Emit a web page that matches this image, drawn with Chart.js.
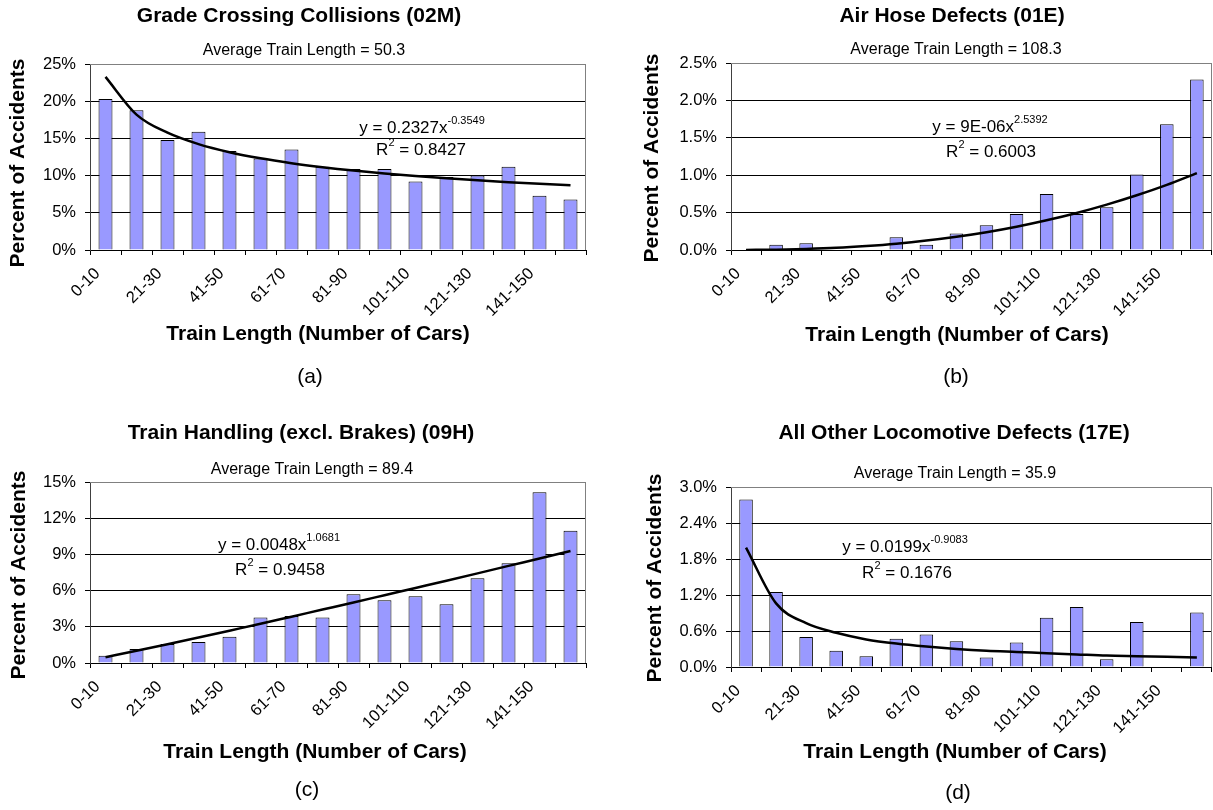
<!DOCTYPE html>
<html>
<head>
<meta charset="utf-8">
<title>Train length vs accident cause</title>
<script src="https://cdn.jsdelivr.net/npm/chart.js@4.4.0/dist/chart.umd.min.js"></script>
<style>
  html, body { margin: 0; padding: 0; background: #fff; overflow: hidden; width: 1213px; height: 810px; }
  canvas { position: absolute; }
</style>
</head>
<body>
<canvas id="chartA" width="606" height="400" style="left:0;top:0"></canvas>
<canvas id="chartB" width="620" height="400" style="left:600px;top:0"></canvas>
<canvas id="chartC" width="606" height="410" style="left:0;top:400px"></canvas>
<canvas id="chartD" width="620" height="410" style="left:600px;top:400px"></canvas>
<script>
// Train length bins (number of cars)
const categories = ['0-10', '11-20', '21-30', '31-40', '41-50', '51-60', '61-70', '71-80',
  '81-90', '91-100', '101-110', '111-120', '121-130', '131-140', '141-150', '151-160'];

// (a) Grade Crossing Collisions (02M), percent of accidents
const gradeCrossing = [20.3, 18.8, 14.8, 15.9, 13.3, 12.3, 13.5, 11.2, 10.9, 10.9, 9.2, 9.8, 10.0, 11.2, 7.3, 6.8];
const gradeTrend = [23.27, 18.20, 15.76, 14.23, 13.14, 12.32, 11.67, 11.13, 10.67, 10.28, 9.94, 9.63, 9.36, 9.12, 8.90, 8.70];

// (b) Air Hose Defects (01E)
const airHose = [0, 0.07, 0.09, 0, 0, 0.17, 0.07, 0.22, 0.33, 0.48, 0.75, 0.48, 0.57, 1.01, 1.68, 2.28];
const airTrend = [0.001, 0.005, 0.015, 0.030, 0.054, 0.085, 0.126, 0.177, 0.238, 0.311, 0.397, 0.495, 0.607, 0.732, 0.871, 1.028];

// (c) Train Handling (excl. Brakes) (09H)
const handling = [0.6, 1.16, 1.57, 1.73, 2.17, 3.77, 3.9, 3.77, 5.7, 5.2, 5.53, 4.87, 7.02, 8.26, 14.15, 10.95];
const handlingTrend = [0.48, 1.01, 1.55, 2.11, 2.68, 3.25, 3.84, 4.43, 5.02, 5.62, 6.22, 6.82, 7.43, 8.05, 8.66, 9.28];

// (d) All Other Locomotive Defects (17E)
const locoDefects = [2.79, 1.25, 0.50, 0.27, 0.18, 0.47, 0.54, 0.43, 0.16, 0.41, 0.82, 1.0, 0.13, 0.75, 0, 0.91];
const locoTrend = [1.99, 1.06, 0.73, 0.57, 0.46, 0.39, 0.34, 0.30, 0.27, 0.25, 0.23, 0.21, 0.19, 0.18, 0.17, 0.16];

const FONT = "'Liberation Sans', Arial, sans-serif";
const Y_TITLE = 'Percent of Accidents';
const X_TITLE = 'Train Length (Number of Cars)';

// gray frame on top and right of the plot area (Excel style)
const plotFrame = {
  id: 'plotFrame',
  beforeDatasetsDraw(chart) {
    const { ctx, chartArea: a } = chart;
    const r = Math.round(a.right) - 0.5, t = Math.round(a.top) + 0.5;
    ctx.save();
    ctx.strokeStyle = '#808080';
    ctx.lineWidth = 1;
    ctx.beginPath();
    ctx.moveTo(a.left, t);
    ctx.lineTo(r, t);
    ctx.lineTo(r, a.bottom);
    ctx.stroke();
    ctx.restore();
  }
};

// titles, axis titles, trend equations and panel letters
const panelText = {
  id: 'panelText',
  afterDraw(chart, args, opts) {
    const ctx = chart.ctx;
    ctx.save();
    ctx.fillStyle = '#000';
    ctx.textBaseline = 'middle';
    opts.items.forEach(it => {
      const parts = it.parts || [{ t: it.text }];
      const w = it.weight || 'normal';
      let total = 0;
      parts.forEach(p => {
        ctx.font = w + ' ' + (p.sup ? 11 : it.size) + 'px ' + FONT;
        p.w = ctx.measureText(p.t).width;
        total += p.w;
      });
      ctx.save();
      ctx.translate(it.x, it.y);
      if (it.rotate) ctx.rotate(it.rotate * Math.PI / 180);
      let x = -total / 2;
      ctx.textAlign = 'left';
      parts.forEach(p => {
        ctx.font = w + ' ' + (p.sup ? 11 : it.size) + 'px ' + FONT;
        ctx.fillText(p.t, x, p.sup ? -7 : 0);
        x += p.w;
      });
      ctx.restore();
    });
    ctx.restore();
  }
};

function buildPanel(id, bars, trend, p) {
  return new Chart(document.getElementById(id), {
    type: 'bar',
    data: {
      labels: categories,
      datasets: [
        {
          type: 'line', data: trend, borderColor: '#000', borderWidth: 2.5,
          pointRadius: 0, cubicInterpolationMode: 'monotone', fill: false
        },
        {
          type: 'bar', data: bars, backgroundColor: '#9999FF', borderColor: '#000',
          borderWidth: 1, barPercentage: 0.45, categoryPercentage: 1.0
        }
      ]
    },
    options: {
      responsive: false,
      animation: false,
      layout: { padding: p.padding },
      plugins: {
        legend: { display: false },
        tooltip: { enabled: false },
        panelText: { items: p.texts }
      },
      scales: {
        x: {
          grid: { offset: true, drawOnChartArea: false, drawTicks: true, tickLength: 5, color: '#000' },
          border: { color: '#000', width: 1 },
          ticks: {
            autoSkip: false, minRotation: 45, maxRotation: 45, padding: 9, labelOffset: -8,
            color: '#000', font: { family: FONT, size: 16.5 },
            callback: (v, i) => (i % 2 === 0 ? categories[i] : '')
          },
          afterFit: s => { s.height = p.xHeight; }
        },
        y: {
          min: 0, max: p.yMax,
          ticks: {
            stepSize: p.yStep, padding: 9, color: '#000',
            font: { family: FONT, size: 16.5 },
            callback: v => v.toFixed(p.dec) + '%'
          },
          grid: {
            color: c => (c.tick && Math.abs(c.tick.value - p.yMax) < 1e-9 ? '#808080' : '#000'),
            tickColor: '#000', tickLength: 5, lineWidth: 1
          },
          border: { color: '#404040', width: 1 },
          afterFit: s => { s.width = p.yWidth; }
        }
      }
    },
    plugins: [plotFrame, panelText]
  });
}

function eq(coef, expo) {
  return [{ t: 'y = ' + coef + 'x' }, { t: expo, sup: true }];
}
function r2(val) {
  return [{ t: 'R' }, { t: '2', sup: true }, { t: ' = ' + val }];
}

buildPanel('chartA', gradeCrossing, gradeTrend, {
  padding: { top: 64, left: 0, right: 20, bottom: 50 }, xHeight: 100, yWidth: 90,
  yMax: 25, yStep: 5, dec: 0,
  texts: [
    { text: 'Grade Crossing Collisions (02M)', x: 299, y: 16, size: 21, weight: 'bold' },
    { text: 'Average Train Length = 50.3', x: 304, y: 51, size: 16 },
    { text: Y_TITLE, x: 18, y: 163, size: 21, weight: 'bold', rotate: -90 },
    { text: X_TITLE, x: 318, y: 334, size: 21, weight: 'bold' },
    { parts: eq('0.2327', '-0.3549'), x: 422, y: 128, size: 17 },
    { parts: r2('0.8427'), x: 421, y: 150, size: 17 },
    { text: '(a)', x: 310, y: 377, size: 21 }
  ]
});

buildPanel('chartB', airHose, airTrend, {
  padding: { top: 63, left: 0, right: 4, bottom: 50 }, xHeight: 100, yWidth: 131,
  yMax: 2.5, yStep: 0.5, dec: 1,
  texts: [
    { text: 'Air Hose Defects (01E)', x: 352, y: 16, size: 21, weight: 'bold' },
    { text: 'Average Train Length = 108.3', x: 356, y: 50, size: 16 },
    { text: Y_TITLE, x: 52, y: 158, size: 21, weight: 'bold', rotate: -90 },
    { text: X_TITLE, x: 357, y: 335, size: 21, weight: 'bold' },
    { parts: eq('9E-06', '2.5392'), x: 390, y: 127, size: 17 },
    { parts: r2('0.6003'), x: 391, y: 152, size: 17 },
    { text: '(b)', x: 356, y: 377, size: 21 }
  ]
});

buildPanel('chartC', handling, handlingTrend, {
  padding: { top: 82, left: 0, right: 20, bottom: 47 }, xHeight: 100, yWidth: 90,
  yMax: 15, yStep: 3, dec: 0,
  texts: [
    { text: 'Train Handling (excl. Brakes) (09H)', x: 301, y: 33, size: 21, weight: 'bold' },
    { text: 'Average Train Length = 89.4', x: 312, y: 70, size: 16 },
    { text: Y_TITLE, x: 19, y: 175, size: 21, weight: 'bold', rotate: -90 },
    { text: X_TITLE, x: 315, y: 352, size: 21, weight: 'bold' },
    { parts: eq('0.0048', '1.0681'), x: 279, y: 145, size: 17 },
    { parts: r2('0.9458'), x: 280, y: 170, size: 17 },
    { text: '(c)', x: 307, y: 390, size: 21 }
  ]
});

buildPanel('chartD', locoDefects, locoTrend, {
  padding: { top: 87, left: 0, right: 4, bottom: 43 }, xHeight: 100, yWidth: 131,
  yMax: 3.0, yStep: 0.6, dec: 1,
  texts: [
    { text: 'All Other Locomotive Defects (17E)', x: 354, y: 33, size: 21, weight: 'bold' },
    { text: 'Average Train Length = 35.9', x: 355, y: 74, size: 16 },
    { text: Y_TITLE, x: 55, y: 178, size: 21, weight: 'bold', rotate: -90 },
    { text: X_TITLE, x: 355, y: 352, size: 21, weight: 'bold' },
    { parts: eq('0.0199', '-0.9083'), x: 305, y: 147, size: 17 },
    { parts: r2('0.1676'), x: 307, y: 173, size: 17 },
    { text: '(d)', x: 358, y: 393, size: 21 }
  ]
});
</script>
</body>
</html>
